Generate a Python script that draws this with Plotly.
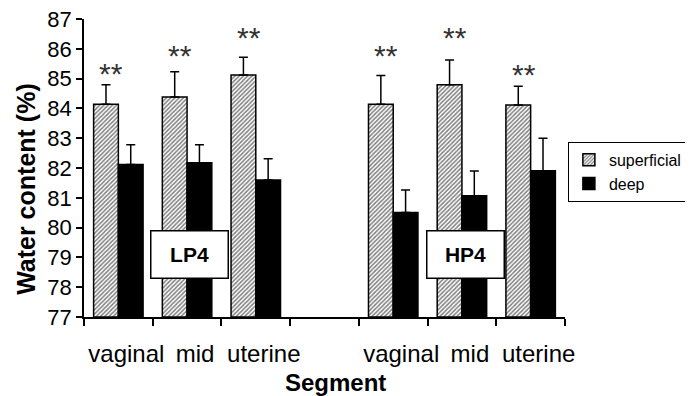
import plotly.graph_objects as go

groups = ["LP4", "HP4"]
segments = ["vaginal", "mid", "uterine"]

superficial = [84.14, 84.38, 85.12, 84.14, 84.79, 84.11]
superficial_err = [0.65, 0.85, 0.60, 0.96, 0.83, 0.63]
deep = [82.12, 82.18, 81.60, 80.51, 81.07, 81.91]
deep_err = [0.66, 0.60, 0.71, 0.75, 0.83, 1.09]
star_levels = [85.29, 85.90, 86.50, 85.90, 86.50, 85.26]

# slot positions: 3 segments per group, one empty slot between groups
xpos = [g * (len(segments) + 1) + s for g in range(len(groups)) for s in range(len(segments))]
ticktext = [seg for _ in groups for seg in segments]
nslots = len(groups) * (len(segments) + 1) - 1  # 7 slots: 0..6

FONT = "Liberation Sans, Arial, sans-serif"

fig = go.Figure()
fig.add_trace(go.Bar(
    x=xpos, y=[v - 77 for v in superficial], base=77, name="superficial",
    marker=dict(color="white", line=dict(color="black", width=1.5),
                pattern=dict(shape="/", fgcolor="black", bgcolor="white", size=3, solidity=0.5)),
    error_y=dict(type="data", symmetric=False, array=superficial_err,
                 arrayminus=[0] * len(superficial_err), color="black", thickness=1.5, width=4.5),
))
fig.add_trace(go.Bar(
    x=xpos, y=[v - 77 for v in deep], base=77, name="deep",
    marker=dict(color="black", line=dict(color="black", width=1.5)),
    error_y=dict(type="data", symmetric=False, array=deep_err,
                 arrayminus=[0] * len(deep_err), color="black", thickness=1.5, width=4.5),
))

annotations = []
for xp, lvl in zip(xpos, star_levels):
    annotations.append(dict(x=xp - 0.1, y=lvl, xref="x", yref="y", text="**", showarrow=False,
                            font=dict(family=FONT, size=30, color="#333"), yanchor="middle", yshift=-4))

label_x = [1.036, 5.046]
for g, lx in zip(groups, label_x):
    annotations.append(dict(x=lx, y=79.1, xref="x", yref="y", text="<b>%s</b>" % g, showarrow=False,
                            font=dict(family=FONT, size=21, color="black"),
                            bgcolor="white", bordercolor="black", borderwidth=1.5,
                            width=76, height=46, borderpad=0))

annotations.append(dict(x=-0.1206, y=0.43, xref="paper", yref="paper", text="<b>Water content (%)</b>",
                        textangle=-90, showarrow=False, xanchor="center", yanchor="middle",
                        font=dict(family=FONT, size=25, color="black")))
annotations.append(dict(x=0.522, y=-0.221, xref="paper", yref="paper", text="<b>Segment</b>",
                        showarrow=False, xanchor="center", yanchor="middle",
                        font=dict(family=FONT, size=24, color="black")))

fig.update_layout(
    width=685, height=388,
    margin=dict(l=76, r=128, t=11, b=79, autoexpand=False),
    paper_bgcolor="white", plot_bgcolor="white",
    barmode="group", bargap=0.28, bargroupgap=0,
    font=dict(family=FONT, color="black"),
    showlegend=True,
    legend=dict(x=1.006, y=0.588, xanchor="left", yanchor="top", bordercolor="black", borderwidth=1,
                bgcolor="white", font=dict(family=FONT, size=16), tracegroupgap=0, itemwidth=30),
    annotations=annotations,
)
fig.update_xaxes(range=[-0.5, nslots - 0.5], tickmode="array", tickvals=xpos, ticktext=ticktext,
                 ticks="", showline=True, linecolor="black", linewidth=1.5, showgrid=False, zeroline=False,
                 automargin=False, ticklabeloverflow="allow",
                 tickfont=dict(family=FONT, size=24), ticklabelshift=8, ticklabelstandoff=14,
                 minor=dict(ticks="outside", tickmode="array",
                            tickvals=[i - 0.5 for i in range(nslots + 1)],
                            ticklen=7, tickwidth=1.5, tickcolor="black"))
fig.update_yaxes(range=[77, 87], dtick=1, ticks="outside", ticklen=6, tickwidth=1.5, tickcolor="black",
                 showline=True, linecolor="black", linewidth=1.5, showgrid=False, zeroline=False,
                 automargin=False, ticklabeloverflow="allow",
                 tickfont=dict(family=FONT, size=22))

fig.write_html("out.html")
